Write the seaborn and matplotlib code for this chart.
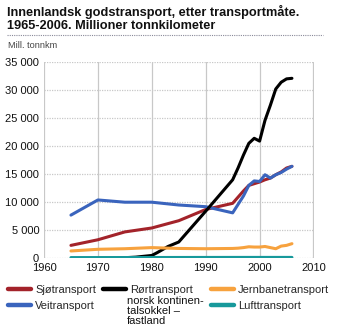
import numpy as np
import pandas as pd
import matplotlib
matplotlib.use("Agg")
import matplotlib.pyplot as plt
from matplotlib.lines import Line2D
import seaborn as sns

# ---- data (million tonne-km) ----
years_main = [1965, 1970, 1975, 1980, 1985, 1990, 1995, 1996, 1997, 1998,
              1999, 2000, 2001, 2002, 2003, 2004, 2005, 2006]
sjo = [2200, 3200, 4600, 5300, 6600, 8600, 9700, 10800, 11900, 12900,
       13200, 13500, 13900, 14200, 14800, 15300, 16000, 16300]
vei = [7600, 10300, 9900, 9900, 9400, 9100, 8000, 9500, 11000, 12900,
       13700, 13600, 14800, 14200, 14800, 15200, 15800, 16300]
jernbane = [1200, 1500, 1600, 1800, 1650, 1600, 1650, 1700, 1800, 1950,
            1900, 1900, 2000, 1800, 1600, 2070, 2200, 2500]
luft = [20, 25, 30, 35, 40, 45, 50, 50, 50, 50,
        50, 50, 50, 50, 50, 50, 50, 50]
years_ror = [1975, 1977, 1980, 1981, 1983, 1985, 1990, 1995, 1996, 1997,
             1998, 1999, 2000, 2001, 2002, 2003, 2004, 2005, 2006]
ror = [0, 100, 400, 900, 2000, 2800, 8300, 13900, 16000, 18300,
       20400, 21300, 20800, 24500, 27200, 30100, 31300, 31900, 32000]

series = ["Sjøtransport", "Veitransport", "Rørtransport", "Jernbanetransport", "Lufttransport"]
colors = ["#a3232a", "#3a64bd", "#000000", "#f7a23e", "#17999b"]
x_ticks = [1960, 1970, 1980, 1990, 2000, 2010]
y_ticks = [0, 5000, 10000, 15000, 20000, 25000, 30000, 35000]

title = "Innenlandsk godstransport, etter transportmåte.\n1965-2006. Millioner tonnkilometer"
unit = "Mill. tonnkm"
ror_extra = "norsk kontinen-\ntalsokkel –\nfastland"

frames = []
for name, yrs, vals in [(series[0], years_main, sjo), (series[1], years_main, vei),
                        (series[2], years_ror, ror), (series[3], years_main, jernbane),
                        (series[4], years_main, luft)]:
    frames.append(pd.DataFrame({"year": yrs, "value": vals, "series": name}))
df = pd.concat(frames, ignore_index=True)

sns.set_theme(style="white")
plt.rcParams["font.family"] = ["Liberation Sans", "DejaVu Sans"]

fig = plt.figure(figsize=(3.39, 3.35), dpi=100)
ax = fig.add_axes([44 / 339, 1 - 257.7 / 335, (313.5 - 44) / 339, (257.7 - 61.5) / 335])

sns.lineplot(data=df, x="year", y="value", hue="series", hue_order=series,
             palette=colors, linewidth=2.2, legend=False, ax=ax, zorder=3)

ax.set_xlim(1960, 2010)
ax.set_ylim(0, 35000)
ax.set_xticks(x_ticks)
ax.set_yticks(y_ticks)
ax.set_xticklabels([str(t) for t in x_ticks], fontsize=8, color="#111111")
ax.set_yticklabels([f"{t:,}".replace(",", " ") for t in y_ticks], fontsize=8, color="#111111")
ax.tick_params(axis="both", length=0, pad=3.5)
ax.set_xlabel("")
ax.set_ylabel("")
for s in ax.spines.values():
    s.set_visible(False)
ax.xaxis.grid(True, color="#c8c8c8", linewidth=0.9, linestyle="-")
ax.yaxis.grid(True, color="#c8c8c8", linewidth=0.9, linestyle=(0, (1, 1)))
ax.set_axisbelow(True)

# title, separator, unit
fig.text(7 / 339, 1 - 5 / 335, title, fontsize=9.15, fontweight="bold", va="top", ha="left",
         color="#111111", linespacing=1.1)
fig.add_artist(Line2D([7 / 339, 323 / 339], [1 - 35 / 335, 1 - 35 / 335],
                      color="#8a8a9a", linewidth=0.8, linestyle=(0, (1, 1))))
fig.text(8 / 339, 1 - 45.7 / 335, unit, fontsize=6.6, va="center", ha="left", color="#444444")

# legend
def handle(c):
    return Line2D([], [], color=c, linewidth=3.2)

leg_kw = dict(frameon=False, borderpad=0, borderaxespad=0, handlelength=2.1,
              handletextpad=0.35, labelspacing=0.55, fontsize=8, loc="upper left")
fig.legend([handle(colors[0]), handle(colors[1])], series[0:2],
           bbox_to_anchor=(8 / 339, 1 - 285 / 335), **leg_kw)
fig.legend([handle(colors[2])], [series[2]],
           bbox_to_anchor=(103 / 339, 1 - 285 / 335), **leg_kw)
fig.legend([handle(colors[3]), handle(colors[4])], series[3:5],
           bbox_to_anchor=(210.7 / 339, 1 - 285 / 335), **leg_kw)
fig.text(127 / 339, 1 - 296.5 / 335, ror_extra, fontsize=8, va="top", ha="left",
         color="#111111", linespacing=1.0)

fig.savefig("out.png", dpi=100)
